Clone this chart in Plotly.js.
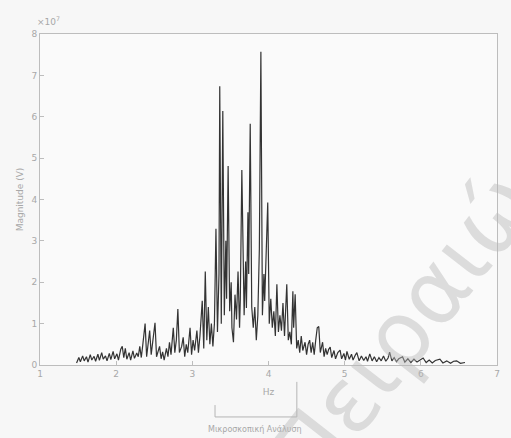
<!DOCTYPE html>
<html>
<head>
<meta charset="utf-8">
<script src="https://cdn.plot.ly/plotly-3.0.1.min.js"></script>
<style>html,body{margin:0;padding:0;background:#f7f7f7;}#chart{width:511px;height:438px;}</style>
</head>
<body>
<div id="chart"></div>
<script>
// Frequency axis (Hz) and magnitude (×10^7)
const freq = [1.48,1.51,1.53,1.56,1.58,1.61,1.63,1.66,1.68,1.71,1.73,1.76,1.78,1.81,1.83,1.86,1.88,1.91,1.93,1.96,1.98,2.01,2.03,2.06,2.08,2.10,2.12,2.14,2.17,2.19,2.22,2.24,2.27,2.29,2.31,2.33,2.35,2.38,2.40,2.42,2.44,2.46,2.48,2.51,2.53,2.55,2.57,2.59,2.61,2.63,2.66,2.68,2.70,2.72,2.75,2.77,2.79,2.81,2.83,2.86,2.88,2.90,2.92,2.94,2.97,2.99,3.01,3.03,3.06,3.08,3.10,3.13,3.15,3.17,3.19,3.21,3.23,3.25,3.27,3.29,3.31,3.33,3.35,3.36,3.38,3.40,3.42,3.44,3.45,3.47,3.49,3.51,3.52,3.54,3.56,3.58,3.60,3.62,3.63,3.65,3.66,3.68,3.70,3.71,3.73,3.74,3.76,3.78,3.80,3.82,3.84,3.86,3.88,3.90,3.92,3.94,3.95,3.97,3.99,4.01,4.03,4.05,4.07,4.09,4.11,4.13,4.15,4.17,4.19,4.21,4.24,4.26,4.28,4.30,4.32,4.33,4.35,4.37,4.39,4.41,4.43,4.45,4.48,4.50,4.52,4.54,4.56,4.58,4.60,4.62,4.64,4.66,4.68,4.71,4.73,4.75,4.77,4.79,4.81,4.83,4.86,4.88,4.91,4.94,4.96,4.99,5.01,5.03,5.06,5.09,5.11,5.14,5.16,5.19,5.22,5.25,5.28,5.30,5.33,5.36,5.39,5.42,5.45,5.48,5.51,5.54,5.57,5.59,5.62,5.65,5.68,5.71,5.76,5.79,5.83,5.87,5.91,5.95,5.99,6.03,6.07,6.11,6.15,6.19,6.25,6.29,6.34,6.39,6.43,6.47,6.52,6.58];
const magnitude = [0.05,0.18,0.08,0.22,0.10,0.20,0.07,0.25,0.12,0.21,0.09,0.26,0.11,0.30,0.14,0.22,0.10,0.28,0.13,0.33,0.15,0.27,0.12,0.38,0.45,0.18,0.40,0.14,0.30,0.12,0.34,0.16,0.29,0.20,0.45,0.18,0.50,1.00,0.20,0.55,0.83,0.25,0.60,1.02,0.20,0.35,0.45,0.15,0.32,0.12,0.40,0.20,0.55,0.25,0.90,0.30,0.60,1.35,0.30,0.45,0.67,0.20,0.50,0.30,0.90,0.25,0.60,0.35,0.83,0.30,0.70,1.55,0.40,2.26,0.60,1.40,0.50,1.00,0.45,1.00,3.29,0.80,2.20,6.74,1.00,6.14,1.20,3.00,1.60,4.81,1.30,2.00,0.90,0.55,1.70,1.10,2.26,0.90,1.60,4.71,3.76,1.20,2.50,1.38,3.69,2.20,5.83,1.40,0.90,1.40,0.60,1.20,2.81,7.57,1.20,2.20,1.55,2.60,3.93,1.00,1.60,0.90,1.30,0.70,1.95,0.80,1.20,0.83,1.50,0.70,1.95,0.60,0.80,0.50,1.78,0.90,1.71,0.40,0.60,0.30,0.70,0.35,0.55,0.25,0.50,0.60,0.30,0.55,0.25,0.60,0.90,0.93,0.30,0.55,0.20,0.40,0.25,0.38,0.43,0.18,0.35,0.15,0.30,0.36,0.15,0.28,0.12,0.33,0.14,0.26,0.12,0.24,0.30,0.10,0.22,0.11,0.20,0.09,0.27,0.10,0.20,0.08,0.18,0.10,0.22,0.09,0.17,0.31,0.10,0.18,0.08,0.15,0.20,0.07,0.15,0.06,0.14,0.07,0.12,0.17,0.06,0.12,0.05,0.11,0.14,0.05,0.10,0.04,0.09,0.10,0.04,0.06];
const xTicks = [1,2,3,4,5,6,7];
const yTicks = [0,1,2,3,4,5,6,7,8];

const gray = '#a8a8a8';
const trace = {
  x: freq, y: magnitude, type: 'scatter', mode: 'lines',
  line: {color: '#333333', width: 1.2}, hoverinfo: 'skip'
};
const axisCommon = {
  showgrid: false, zeroline: false, showline: true, mirror: true,
  linecolor: '#bdbdbd', linewidth: 1, ticks: 'inside', ticklen: 4,
  tickcolor: '#bdbdbd', tickfont: {family: 'DejaVu Sans', size: 9, color: gray}
};
const layout = {
  width: 511, height: 438,
  margin: {l: 40, r: 14, t: 34, b: 73},
  paper_bgcolor: '#f7f7f7', plot_bgcolor: '#fafafa',
  showlegend: false,
  xaxis: Object.assign({}, axisCommon, {
    range: [1, 7], tickvals: xTicks, ticktext: xTicks.map(String),
    title: {text: 'Hz', font: {family: 'DejaVu Sans', size: 9, color: gray}, standoff: 10}
  }),
  yaxis: Object.assign({}, axisCommon, {
    range: [0, 8], tickvals: yTicks, ticktext: yTicks.map(String),
    title: {text: 'Magnitude (V)', font: {family: 'DejaVu Sans', size: 9, color: gray}, standoff: 6}
  }),
  annotations: [
    {xref: 'paper', yref: 'paper', x: -0.01, y: 1.015, xanchor: 'left', yanchor: 'bottom',
     text: '×10<sup>7</sup>', showarrow: false, font: {family: 'DejaVu Sans', size: 9, color: gray}},
    {xref: 'paper', yref: 'paper', x: 0.47, y: -0.196, xanchor: 'center', yanchor: 'middle',
     text: 'Μικροσκοπική Ανάλυση', showarrow: false, font: {family: 'DejaVu Sans', size: 8, color: gray}},
    {xref: 'paper', yref: 'paper', x: 0.83, y: 0.17, xanchor: 'center', yanchor: 'middle',
     text: 'Πειραιώς', textangle: -52, showarrow: false,
     font: {family: 'DejaVu Sans', size: 90, color: 'rgba(185,185,185,0.45)'}}
  ],
  shapes: [
    {type: 'line', xref: 'paper', yref: 'paper', x0: 0.383, x1: 0.383, y0: -0.121, y1: -0.157, line: {color: '#b5b5b5', width: 1}},
    {type: 'line', xref: 'paper', yref: 'paper', x0: 0.383, x1: 0.562, y0: -0.157, y1: -0.157, line: {color: '#b5b5b5', width: 1}},
    {type: 'line', xref: 'paper', yref: 'paper', x0: 0.562, x1: 0.562, y0: -0.051, y1: -0.157, line: {color: '#b5b5b5', width: 1}}
  ]
};
Plotly.newPlot('chart', [trace], layout, {displayModeBar: false, staticPlot: true});
</script>
</body>
</html>
